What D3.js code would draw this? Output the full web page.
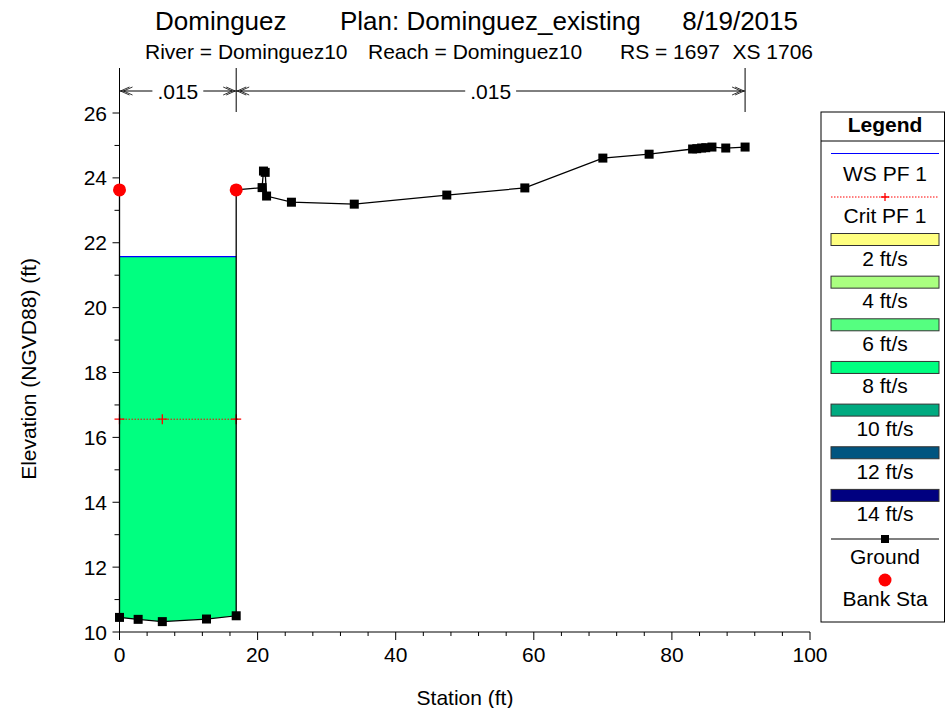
<!DOCTYPE html>
<html>
<head>
<meta charset="utf-8">
<script src="https://cdn.jsdelivr.net/npm/d3@7"></script>
<style>
  html, body { margin: 0; padding: 0; background: #fff; }
  svg { display: block; font-family: "Liberation Sans", Arial, sans-serif; }
</style>
</head>
<body>
<svg id="chart" width="946" height="708"></svg>
<script>
// Cross-section geometry: ground stations (ft) and elevations (ft)
const groundStation = [0, 0, 2.7, 6.2, 12.6, 16.9, 16.9, 20.65, 20.85, 21.1, 21.3, 24.9, 34.0, 47.4, 58.7, 70.0, 76.7, 83.0, 83.6, 84.3, 84.9, 85.8, 87.8, 90.6];
const groundElev    = [23.63, 10.45, 10.39, 10.32, 10.40, 10.50, 23.63, 23.70, 24.21, 24.17, 23.44, 23.25, 23.19, 23.47, 23.69, 24.61, 24.73, 24.89, 24.90, 24.92, 24.93, 24.95, 24.92, 24.95];

// Bank stations
const bankStation = [0, 16.9];
const bankElev = [23.63, 23.63];

// Water surface and critical depth for profile PF 1
const wsElev = 21.57;
const wsExtent = [0, 16.9];
const critElev = 16.56;
const critMarkStations = [0, 6.2, 16.9];

// Manning's n regions
const nBreaks = [0, 16.9, 90.6];
const nValues = [".015", ".015"];

// Legend entries for velocity colours
const velLabels = ["2 ft/s", "4 ft/s", "6 ft/s", "8 ft/s", "10 ft/s", "12 ft/s", "14 ft/s"];
const velColors = ["#ffff80", "#aaff80", "#55ff80", "#00ff80", "#00aa80", "#005580", "#000080"];

const xTicks = [0, 20, 40, 60, 80, 100];
const yTicks = [10, 12, 14, 16, 18, 20, 22, 24, 26];

const svg = d3.select("#chart");
const FS = 21;

const x = d3.scaleLinear().domain([0, 100]).range([119.5, 810]);
const y = d3.scaleLinear().domain([10, 26]).range([632, 113]);
const yTop = 68;

// Titles
const title = svg.append("g").attr("font-size", 26).attr("fill", "#000");
title.append("text").attr("x", 155).attr("y", 30).text("Dominguez");
title.append("text").attr("x", 340).attr("y", 30).text("Plan: Dominguez_existing");
title.append("text").attr("x", 798).attr("y", 30).attr("text-anchor", "end").text("8/19/2015");
const sub = svg.append("g").attr("font-size", FS).attr("fill", "#000");
sub.append("text").attr("x", 145).attr("y", 59).text("River = Dominguez10");
sub.append("text").attr("x", 368).attr("y", 59).text("Reach = Dominguez10");
sub.append("text").attr("x", 620).attr("y", 59).text("RS = 1697");
sub.append("text").attr("x", 813).attr("y", 59).attr("text-anchor", "end").text("XS 1706");

// Flow area: between water surface and ground within the wetted extent
const wetIdx = d3.range(1, 6);
const flowPoly = [[x(wsExtent[0]), y(wsElev)]]
  .concat(wetIdx.map(i => [x(groundStation[i]), y(groundElev[i])]))
  .concat([[x(wsExtent[1]), y(wsElev)]]);
svg.append("path")
  .attr("d", "M" + flowPoly.map(p => p.join(",")).join("L") + "Z")
  .attr("fill", velColors[3]);

// Water surface
svg.append("line")
  .attr("x1", x(wsExtent[0])).attr("x2", x(wsExtent[1]))
  .attr("y1", y(wsElev)).attr("y2", y(wsElev))
  .attr("stroke", "#0000ff").attr("stroke-width", 1.2);

// Critical water surface
svg.append("line")
  .attr("x1", x(wsExtent[0])).attr("x2", x(wsExtent[1]) + 3)
  .attr("y1", y(critElev)).attr("y2", y(critElev))
  .attr("stroke", "#ff0000").attr("stroke-width", 1).attr("stroke-dasharray", "1.5,1.5");
critMarkStations.forEach(s => {
  const cx = x(s), cy = y(critElev);
  svg.append("path").attr("d", `M${cx - 5},${cy}H${cx + 5}M${cx},${cy - 5}V${cy + 5}`)
    .attr("stroke", "#ff0000").attr("stroke-width", 1.3);
});

// Axes
const xAxis = svg.append("g");
xAxis.append("line").attr("x1", x(0)).attr("x2", x(100)).attr("y1", y(10)).attr("y2", y(10)).attr("stroke", "#000");
d3.range(0, 101, 4).forEach(v => {
  xAxis.append("line").attr("x1", x(v)).attr("x2", x(v)).attr("y1", y(10)).attr("y2", y(10) + (v % 20 === 0 ? 8 : 4)).attr("stroke", "#000");
});
xTicks.forEach(v => {
  xAxis.append("text").attr("x", x(v)).attr("y", 662).attr("text-anchor", "middle").attr("font-size", FS).text(v);
});
const yAxis = svg.append("g");
yAxis.append("line").attr("x1", x(0)).attr("x2", x(0)).attr("y1", y(10)).attr("y2", yTop).attr("stroke", "#000");
d3.range(10, 27, 1).forEach(v => {
  yAxis.append("line").attr("x1", x(0) - (v % 2 === 0 ? 7 : 5)).attr("x2", x(0)).attr("y1", y(v)).attr("y2", y(v)).attr("stroke", "#000");
});
yTicks.forEach(v => {
  yAxis.append("text").attr("x", 107).attr("y", y(v) + 7.5).attr("text-anchor", "end").attr("font-size", FS).text(v);
});
svg.append("text").attr("x", 465).attr("y", 705).attr("text-anchor", "middle").attr("font-size", FS).text("Station (ft)");
svg.append("text").attr("transform", "translate(36,369) rotate(-90)").attr("text-anchor", "middle").attr("font-size", FS).text("Elevation (NGVD88) (ft)");

// Manning's n markers
const nY = 91;
nBreaks.slice(1).forEach(b => {
  svg.append("line").attr("x1", x(b)).attr("x2", x(b)).attr("y1", yTop).attr("y2", 112).attr("stroke", "#000");
});
nValues.forEach((n, i) => {
  const a = x(nBreaks[i]), b = x(nBreaks[i + 1]), m = (a + b) / 2;
  const g = svg.append("g");
  const t = g.append("text").attr("x", m).attr("y", nY + 7.5).attr("text-anchor", "middle").attr("font-size", FS).text(n);
  const w = t.node().getComputedTextLength() / 2 + 5;
  g.append("line").attr("x1", a).attr("x2", m - w).attr("y1", nY).attr("y2", nY).attr("stroke", "#000");
  g.append("line").attr("x1", m + w).attr("x2", b).attr("y1", nY).attr("y2", nY).attr("stroke", "#000");
  g.append("path").attr("d", `M${a + 10},${nY - 4}L${a + 1},${nY}L${a + 10},${nY + 4}M${a + 13},${nY - 4}L${a + 4},${nY}L${a + 13},${nY + 4}`)
    .attr("fill", "none").attr("stroke", "#000").attr("stroke-width", 0.8);
  g.append("path").attr("d", `M${b - 10},${nY - 4}L${b - 1},${nY}L${b - 10},${nY + 4}M${b - 13},${nY - 4}L${b - 4},${nY}L${b - 13},${nY + 4}`)
    .attr("fill", "none").attr("stroke", "#000").attr("stroke-width", 0.8);
});

// Ground line and points
const line = d3.line().x((d, i) => x(groundStation[i])).y((d, i) => y(groundElev[i]));
svg.append("path").datum(groundStation).attr("d", line).attr("fill", "none").attr("stroke", "#000").attr("stroke-width", 1.3);
svg.append("g").selectAll("rect").data(groundStation).join("rect")
  .attr("x", (d, i) => x(d) - 4.5).attr("y", (d, i) => y(groundElev[i]) - 4.5)
  .attr("width", 9).attr("height", 9).attr("fill", "#000");

// Bank stations
svg.append("g").selectAll("circle").data(bankStation).join("circle")
  .attr("cx", d => x(d)).attr("cy", (d, i) => y(bankElev[i])).attr("r", 6.5).attr("fill", "#ff0000");

// Legend
const lg = svg.append("g");
const lx0 = 821, lx1 = 944.5, ly0 = 112, ly1 = 622;
lg.append("rect").attr("x", lx0).attr("y", ly0).attr("width", lx1 - lx0).attr("height", ly1 - ly0).attr("fill", "#fff").attr("stroke", "#000");
lg.append("line").attr("x1", lx0).attr("x2", lx1).attr("y1", 141).attr("y2", 141).attr("stroke", "#000");
lg.append("text").attr("x", 885).attr("y", 132).attr("text-anchor", "middle").attr("font-size", FS).attr("font-weight", "bold").text("Legend");
const sx0 = 831, sx1 = 939, cxm = 885;
const lText = (t, yy) => lg.append("text").attr("x", cxm).attr("y", yy + 7.5).attr("text-anchor", "middle").attr("font-size", FS).text(t);
lg.append("line").attr("x1", sx0).attr("x2", sx1).attr("y1", 153.5).attr("y2", 153.5).attr("stroke", "#0000ff").attr("stroke-width", 1.2);
lText("WS PF 1", 173);
lg.append("line").attr("x1", sx0).attr("x2", sx1).attr("y1", 197).attr("y2", 197).attr("stroke", "#ff0000").attr("stroke-dasharray", "1.5,1.5");
lg.append("path").attr("d", `M${cxm - 4},197H${cxm + 4}M${cxm},193V201`).attr("stroke", "#ff0000").attr("stroke-width", 1.3);
lText("Crit PF 1", 215);
velLabels.forEach((lab, i) => {
  const top = 233.5 + i * 42.65;
  lg.append("rect").attr("x", sx0).attr("y", top).attr("width", sx1 - sx0).attr("height", 12).attr("fill", velColors[i]).attr("stroke", "#333").attr("stroke-width", 1);
  lText(lab, top + 24.5);
});
lg.append("line").attr("x1", sx0).attr("x2", sx1).attr("y1", 539).attr("y2", 539).attr("stroke", "#000").attr("stroke-width", 1.2);
lg.append("rect").attr("x", cxm - 4).attr("y", 535).attr("width", 8).attr("height", 8).attr("fill", "#000");
lText("Ground", 556.5);
lg.append("circle").attr("cx", cxm).attr("cy", 580).attr("r", 6.5).attr("fill", "#ff0000");
lText("Bank Sta", 598.5);
</script>
</body>
</html>
